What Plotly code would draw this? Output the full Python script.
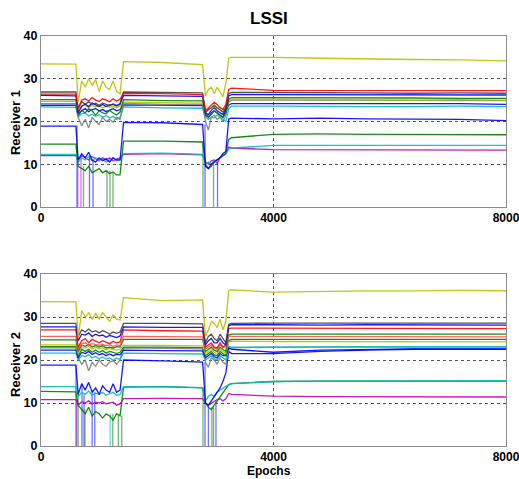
import plotly.graph_objects as go

# ---------------- data ----------------
epochs = [0, 600, 640, 700, 760, 820, 880, 940, 1000, 1060, 1120, 1180, 1240, 1300, 1360,
          1420, 2100, 2780, 2830, 2880, 2930, 2980, 3030, 3080, 3130, 3180, 3230, 3280,
          4000, 4800, 5600, 6400, 7200, 8000]

x_ticks = [0, 4000, 8000]
y_ticks = [0, 10, 20, 30, 40]

# Receiver 1
r1_magenta = [12.0, 12.0, 11.0, 12.0, 11.5, 11.0, 11.8, 11.2, 10.8, 11.5, 11.0, 11.5, 10.8, 11.2, 11.5,
              12.3, 12.5, 12.2, 10.5, 10.0, 10.8, 11.0, 10.2, 11.5, 12.0, 12.5, 14.0, 13.8,
              13.4, 13.4, 13.3, 13.4, 13.3, 13.3]
r1_cyan_b = [12.3, 12.3, 10.5, 11.5, 11.0, 11.8, 10.8, 11.5, 11.0, 11.2, 10.5, 11.0, 11.5, 10.8, 11.0,
             12.5, 12.6, 12.3, 10.0, 10.5, 10.0, 10.8, 11.0, 11.5, 12.0, 12.5, 13.5, 13.8,
             14.4, 14.4, 14.5, 14.4, 14.5, 14.4]
r1_green_b = [14.7, 14.7, 9.5, 9.0, 8.5, 9.5, 8.0, 8.5, 9.0, 8.0, 8.5, 7.8, 8.2, 7.5, 7.5,
              15.4, 15.4, 15.2, 10.0, 9.0, 9.5, 10.5, 11.0, 11.5, 12.0, 12.5, 15.8, 16.2,
              17.0, 17.1, 17.0, 17.0, 17.0, 16.9]
r1_blue_c = [18.9, 18.9, 11.0, 12.5, 11.5, 12.8, 11.0, 10.5, 11.5, 10.8, 11.3, 10.5, 11.5, 11.0, 11.0,
             19.8, 19.7, 19.3, 9.5, 9.0, 10.0, 10.5, 11.0, 11.5, 12.5, 13.0, 20.6, 20.8,
             20.6, 20.8, 20.6, 20.6, 20.5, 20.2]
r1_cyan_a = [23.4, 23.3, 21.0, 21.8, 22.0, 21.3, 21.7, 21.2, 21.6, 21.0, 21.4, 20.8, 21.2, 20.5, 21.0,
             23.4, 23.2, 23.1, 21.0, 20.5, 21.0, 20.8, 21.5, 21.0, 20.5, 20.0, 23.0, 23.6,
             23.6, 23.5, 23.5, 23.5, 23.6, 23.5]
r1_blue_b = [23.8, 23.8, 21.5, 22.5, 23.0, 22.3, 22.8, 23.0, 22.5, 22.8, 22.3, 22.7, 23.0, 22.5, 22.8,
             23.9, 23.8, 23.7, 21.5, 21.0, 22.0, 22.5, 22.0, 21.5, 21.0, 22.5, 23.8, 24.2,
             24.2, 24.1, 24.1, 24.1, 24.2, 24.0]
r1_gray = [24.2, 24.2, 21.0, 19.0, 20.5, 18.5, 21.0, 20.0, 19.3, 21.0, 20.0, 20.5, 19.8, 21.0, 20.5,
           24.2, 24.0, 24.0, 20.0, 18.0, 21.0, 21.5, 20.5, 21.0, 20.0, 21.5, 24.5, 25.0,
           25.0, 25.0, 24.9, 24.9, 25.0, 24.9]
r1_yellow_b = [24.7, 24.7, 22.5, 23.6, 23.8, 23.3, 23.8, 23.4, 23.6, 23.2, 23.6, 23.3, 23.5, 23.2, 23.6,
               24.5, 24.4, 24.3, 22.5, 22.8, 23.2, 23.5, 23.0, 23.4, 22.8, 23.2, 24.8, 25.2,
               25.2, 25.1, 25.0, 25.0, 25.1, 25.0]
r1_green_a = [25.1, 25.1, 21.5, 22.6, 22.0, 23.0, 22.5, 21.5, 22.5, 22.0, 21.8, 22.6, 22.0, 21.5, 22.2,
              25.1, 24.9, 24.8, 22.0, 21.0, 21.6, 22.5, 22.0, 21.5, 21.0, 22.0, 25.2, 25.6,
              25.6, 25.5, 25.5, 25.5, 25.4, 25.4]
r1_blue_a = [26.1, 26.0, 22.0, 23.6, 24.1, 23.5, 24.3, 23.8, 23.5, 24.0, 23.5, 23.9, 24.0, 23.6, 24.0,
             26.1, 26.0, 25.9, 22.0, 21.6, 22.6, 23.2, 22.5, 22.0, 21.6, 23.0, 26.0, 26.3,
             26.3, 26.2, 26.2, 26.2, 26.3, 26.2]
r1_black = [26.9, 26.9, 23.0, 24.6, 24.0, 24.6, 24.0, 24.3, 23.8, 24.3, 24.0, 23.7, 24.1, 23.8, 24.2,
            26.9, 26.8, 26.7, 22.0, 22.8, 23.2, 23.8, 23.2, 22.6, 22.2, 23.2, 26.5, 26.8,
            26.8, 26.7, 26.7, 26.6, 26.7, 26.6]
r1_red = [26.4, 26.4, 23.0, 25.0, 25.3, 24.8, 25.6, 25.0, 24.7, 25.3, 25.0, 24.6, 25.3, 24.8, 25.2,
          26.6, 26.5, 26.3, 22.5, 23.2, 23.8, 24.5, 24.0, 23.2, 22.8, 24.0, 27.5, 27.8,
          27.3, 27.3, 27.2, 27.3, 27.2, 27.2]
r1_yellow = [33.5, 33.4, 24.5, 29.5, 28.0, 30.0, 28.5, 29.8, 27.0, 29.5, 28.0, 27.5, 29.5, 27.0, 26.5,
             34.0, 33.8, 33.3, 26.0, 27.5, 28.0, 26.5, 28.0, 27.0, 25.8, 29.0, 34.8, 35.0,
             35.0, 34.8, 34.6, 34.5, 34.4, 34.2]

# Receiver 2
r2_magenta = [10.8, 10.8, 9.5, 10.3, 10.0, 10.5, 9.8, 10.2, 10.0, 10.3, 9.8, 10.0, 10.2, 9.5, 9.8,
              11.0, 11.1, 11.0, 10.0, 9.5, 10.0, 10.5, 10.8, 11.0, 10.5, 11.0, 12.2, 12.0,
              11.6, 11.5, 11.5, 11.5, 11.5, 11.4]
r2_green_c = [12.7, 12.6, 9.5, 8.5, 7.5, 9.0, 7.0, 8.0, 7.5, 6.5, 7.5, 7.0, 6.0, 7.5, 7.0,
              13.7, 13.8, 13.5, 10.0, 9.0, 8.5, 9.5, 10.5, 11.5, 12.5, 13.5, 14.3, 14.5,
              15.0, 15.1, 15.1, 15.2, 15.2, 15.1]
r2_cyan_b = [13.8, 13.8, 11.5, 12.5, 12.0, 12.8, 11.8, 12.3, 12.0, 12.5, 11.8, 12.2, 12.5, 11.8, 12.0,
             13.8, 13.8, 13.6, 10.5, 11.5, 12.0, 11.5, 12.5, 13.0, 13.5, 14.0, 14.3, 14.5,
             15.0, 15.1, 15.1, 15.2, 15.2, 15.2]
r2_blue_c = [18.8, 18.8, 12.0, 14.5, 13.0, 14.8, 12.5, 13.5, 12.0, 14.0, 13.0, 12.5, 14.5, 12.5, 13.0,
             20.0, 19.8, 19.5, 10.0, 9.5, 10.5, 11.5, 12.5, 13.5, 15.0, 17.0, 22.0, 21.5,
             21.5, 22.0, 22.3, 22.5, 22.5, 22.5]
r2_gray = [22.8, 22.8, 20.5, 19.0, 20.0, 17.5, 19.5, 18.5, 20.0, 19.0, 18.5, 19.5, 19.8, 19.0, 20.0,
           22.8, 22.7, 22.6, 19.5, 18.3, 20.5, 20.0, 19.0, 20.5, 19.5, 19.0, 22.5, 22.8,
           23.0, 23.0, 23.0, 23.0, 23.0, 23.0]
r2_cyan_a = [21.6, 21.6, 20.0, 21.0, 20.8, 21.2, 20.5, 20.8, 20.3, 20.7, 20.2, 20.5, 20.0, 20.4, 20.2,
             21.6, 21.5, 21.4, 20.0, 20.5, 21.0, 20.3, 20.0, 21.0, 20.5, 20.0, 23.2, 23.0,
             23.0, 23.1, 23.1, 23.1, 23.1, 23.1]
r2_blue_b = [22.3, 22.3, 20.5, 21.8, 21.5, 22.0, 21.3, 21.7, 21.2, 21.5, 21.0, 21.4, 21.0, 21.3, 21.2,
             22.3, 22.2, 22.1, 20.5, 21.0, 21.5, 20.8, 20.5, 21.5, 21.0, 21.0, 22.8, 22.5,
             21.8, 22.3, 22.5, 22.6, 22.6, 22.6]
r2_green_b = [23.1, 23.1, 21.0, 22.5, 22.0, 22.5, 21.8, 22.3, 21.8, 22.2, 21.6, 22.0, 21.8, 21.5, 21.8,
              23.0, 23.0, 22.9, 21.0, 21.5, 22.0, 21.2, 21.0, 22.0, 21.5, 21.0, 24.5, 24.8,
              24.8, 24.8, 24.8, 24.8, 24.8, 24.8]
r2_yellow_b = [23.5, 23.5, 21.5, 23.0, 22.8, 23.2, 22.5, 23.0, 22.6, 22.8, 22.4, 22.7, 22.5, 22.3, 22.5,
               23.4, 23.4, 23.3, 21.5, 22.0, 22.5, 21.8, 21.5, 22.5, 22.0, 21.5, 24.2, 24.4,
               24.3, 24.3, 24.3, 24.3, 24.3, 24.2]
r2_green_a = [24.7, 24.7, 22.0, 23.5, 23.2, 23.6, 23.0, 23.4, 23.0, 23.3, 22.8, 23.0, 22.8, 23.1, 23.0,
              24.8, 24.8, 24.8, 22.0, 22.5, 23.0, 22.3, 22.0, 23.0, 22.5, 22.0, 25.8, 26.0,
              26.0, 26.0, 26.0, 26.0, 26.0, 26.0]
r2_pink = [25.5, 25.5, 22.5, 23.8, 24.0, 23.5, 23.8, 23.6, 23.4, 23.6, 23.3, 23.5, 23.2, 23.5, 23.3,
           25.5, 25.4, 25.4, 22.5, 23.0, 23.5, 22.8, 22.5, 23.5, 23.0, 23.0, 25.6, 25.5,
           25.5, 25.5, 25.4, 25.4, 25.4, 25.4]
r2_red = [27.0, 27.0, 23.0, 24.5, 25.0, 24.0, 24.8, 24.3, 24.0, 24.5, 24.2, 23.8, 24.3, 24.0, 24.2,
          27.0, 26.8, 26.7, 23.0, 23.5, 24.0, 23.0, 22.8, 24.0, 23.0, 23.5, 27.3, 27.4,
          27.4, 27.3, 27.3, 27.4, 27.4, 27.3]
r2_blue_a = [27.7, 27.7, 24.5, 26.0, 25.8, 26.3, 25.5, 26.0, 25.6, 25.8, 25.3, 25.7, 25.5, 25.2, 25.6,
             27.7, 27.6, 27.6, 23.5, 24.5, 25.0, 24.0, 24.0, 25.0, 24.0, 23.5, 28.0, 28.2,
             28.2, 28.1, 28.2, 28.2, 28.1, 28.1]
r2_black = [28.5, 28.5, 25.5, 27.0, 26.5, 27.2, 26.5, 26.8, 26.3, 26.8, 26.5, 26.0, 26.5, 26.2, 26.5,
            28.5, 28.5, 28.4, 24.0, 25.5, 26.0, 25.0, 24.5, 26.0, 25.0, 24.0, 28.3, 28.5,
            28.6, 28.6, 28.6, 28.6, 28.6, 28.6]
r2_yellow = [33.6, 33.5, 25.0, 31.5, 30.0, 31.0, 29.5, 30.8, 29.5, 31.0, 30.0, 29.0, 30.5, 29.5, 29.3,
             34.5, 33.8, 34.0, 25.5, 27.0, 29.0, 28.5, 27.5, 29.5, 27.0, 29.0, 36.2, 36.3,
             35.8, 36.0, 36.1, 36.1, 36.2, 36.1]

# signal dropouts (epoch, level before dropping to 0, colour key)
r1_drop_epoch = [619, 632, 688, 731, 834, 895, 1135, 1187, 1239, 2787, 2822, 2968, 3037]
r1_drop_level = [19.0, 12.0, 12.0, 9.5, 12.0, 11.0, 8.5, 8.5, 8.0, 15.2, 19.3, 10.0, 10.5]
r1_drop_color = ["b", "m", "m", "g", "b", "b", "g", "g", "g", "g", "b", "g", "b"]

r2_drop_epoch = [602, 615, 640, 705, 740, 757, 880, 925, 1190, 1235, 1330, 1390, 2787, 2822, 2880, 2940, 2968, 3010]
r2_drop_level = [18.8, 10.8, 12.6, 14.5, 12.0, 8.5, 13.0, 12.5, 7.5, 7.5, 7.0, 7.0, 13.5, 19.5, 9.5, 9.0, 9.0, 10.5]
r2_drop_color = ["b", "m", "g", "b", "b", "g", "b", "b", "c", "g", "g", "g", "g", "b", "b", "g", "g", "b"]

# ---------------- styling ----------------
COL = {"b": "#0000FF", "g": "#008000", "r": "#FF0000", "c": "#00BFBF", "m": "#BF00BF",
       "y": "#BFBF00", "k": "#404040", "gr": "#808080", "p": "#FF5050"}

r1_series = [(r1_magenta, "m"), (r1_cyan_b, "c"), (r1_green_b, "g"), (r1_blue_c, "b"),
             (r1_cyan_a, "c"), (r1_blue_b, "b"), (r1_gray, "gr"), (r1_yellow_b, "y"),
             (r1_green_a, "g"), (r1_blue_a, "b"), (r1_black, "k"), (r1_red, "r"), (r1_yellow, "y")]
r2_series = [(r2_magenta, "m"), (r2_green_c, "g"), (r2_cyan_b, "c"), (r2_blue_c, "b"),
             (r2_gray, "gr"), (r2_cyan_a, "c"), (r2_blue_b, "b"), (r2_green_b, "g"),
             (r2_yellow_b, "y"), (r2_green_a, "g"), (r2_pink, "p"), (r2_red, "r"),
             (r2_blue_a, "b"), (r2_black, "k"), (r2_yellow, "y")]

fig = go.Figure()

def add_drops(ep, lv, cl, xa, ya):
    for e, v, c in zip(ep, lv, cl):
        fig.add_trace(go.Scatter(x=[e, e], y=[v, 0], mode="lines", xaxis=xa, yaxis=ya,
                                 line=dict(color=COL[c], width=1.3), opacity=0.55,
                                 showlegend=False, hoverinfo="skip"))

def add_series(series, xa, ya):
    for vals, c in series:
        fig.add_trace(go.Scatter(x=epochs, y=vals, mode="lines", xaxis=xa, yaxis=ya,
                                 line=dict(color=COL[c], width=1.3), opacity=0.9,
                                 showlegend=False, hoverinfo="skip"))

add_drops(r1_drop_epoch, r1_drop_level, r1_drop_color, "x", "y")
add_series(r1_series, "x", "y")
add_drops(r2_drop_epoch, r2_drop_level, r2_drop_color, "x2", "y2")
add_series(r2_series, "x2", "y2")

FONT = "Arial, Liberation Sans, sans-serif"
axis_common = dict(showline=True, mirror=True, linecolor="#8c8c8c", linewidth=1,
                   showgrid=True, gridcolor="#555555", griddash="dot", gridwidth=1,
                   zeroline=False, ticks="", automargin=False, ticklabeloverflow="allow")
xtick_font = dict(family=FONT, size=12, color="black", weight="bold")
ytick_font = dict(family=FONT, size=12.5, color="black", weight="bold")

fig.update_layout(
    width=519, height=479,
    margin=dict(l=41, r=13, t=36, b=33, autoexpand=False),
    paper_bgcolor="white", plot_bgcolor="white",
    xaxis=dict(domain=[0, 1], anchor="y", range=[0, 8000], tickvals=x_ticks, tickfont=xtick_font, **axis_common),
    yaxis=dict(domain=[0.583, 1], anchor="x", range=[0, 40], tickvals=y_ticks, tickfont=ytick_font, **axis_common),
    xaxis2=dict(domain=[0, 1], anchor="y2", range=[0, 8000], tickvals=x_ticks, tickfont=xtick_font, **axis_common),
    yaxis2=dict(domain=[0, 0.4195], anchor="x2", range=[0, 40], tickvals=y_ticks, tickfont=ytick_font, **axis_common),
    annotations=[
        dict(text="LSSI", xref="paper", yref="paper", x=0.49, y=1.0, yshift=18, showarrow=False,
             font=dict(family=FONT, size=17, color="black", weight="bold"),
             xanchor="center", yanchor="middle"),
        dict(text="Receiver 1", xref="paper", yref="paper", x=-0.056, y=0.79, textangle=-90,
             showarrow=False, font=dict(family=FONT, size=13, color="black", weight="bold"),
             xanchor="center", yanchor="middle"),
        dict(text="Receiver 2", xref="paper", yref="paper", x=-0.056, y=0.2, textangle=-90,
             showarrow=False, font=dict(family=FONT, size=13, color="black", weight="bold"),
             xanchor="center", yanchor="middle"),
        dict(text="Epochs", xref="paper", yref="paper", x=0.49, y=0, yshift=-25, showarrow=False,
             font=dict(family=FONT, size=12, color="black", weight="bold"),
             xanchor="center", yanchor="middle"),
    ],
)

# remove the default 8px page margin so the 519x479 figure fills the window exactly
fig.write_html("out.html", config={"displayModeBar": False},
               post_script="document.body.style.margin='0';document.body.style.overflow='hidden';")
